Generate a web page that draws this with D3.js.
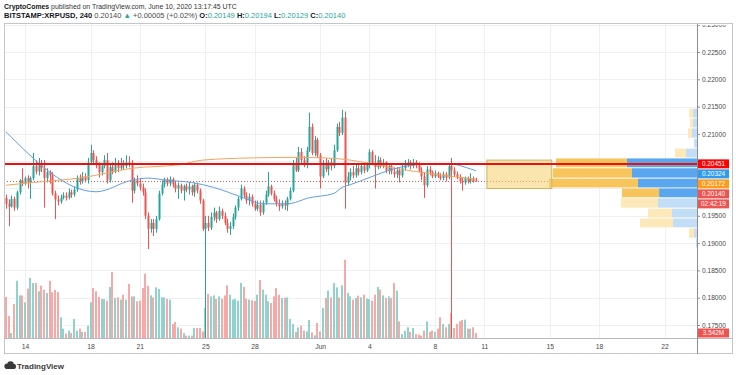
<!DOCTYPE html>
<html lang="en">
<head>
<meta charset="UTF-8">
<title>BITSTAMP:XRPUSD, 240</title>
<script src="https://d3js.org/d3.v7.min.js"></script>
<style>
    body { margin: 0; background: #fff; }
    svg { display: block; font-family: "Liberation Sans", Arial, sans-serif; }
    text { white-space: pre; }
</style>
</head>
<body>
<svg id="chart" width="736" height="375"></svg>
<script>
// 4h candles, first one opens May 12 2020 20:00 UTC
const firstOpen = Date.UTC(2020, 4, 12, 20);
const candleMs = 4 * 3600 * 1000;

// [open, high, low, close]
const ohlc = [
    [.1983,.1989,.1963,.1972],[.1972,.1980,.1931,.1967],[.1967,.1987,.1965,.1981],[.1981,.1985,.1959,.1965],
    [.1965,.1996,.1961,.1993],[.1993,.2017,.1989,.2015],[.2015,.2037,.2004,.2009],[.2009,.2022,.2006,.2019],
    [.2019,.2024,.2000,.2011],[.2011,.2022,.1981,.2019],[.2019,.2065,.2015,.2041],[.2041,.2052,.2026,.2031],
    [.2031,.2056,.2024,.2046],[.2046,.2052,.2030,.2037],[.2037,.2052,.1965,.2019],[.2019,.2037,.2011,.2030],
    [.2030,.2033,.2009,.2024],[.2024,.2030,.1987,.1991],[.1991,.1996,.1944,.1980],[.1980,.1987,.1969,.1976],
    [.1976,.1989,.1972,.1983],[.1983,.1993,.1980,.1987],[.1987,.1993,.1978,.1983],[.1983,.2000,.1980,.1993],
    [.1993,.1998,.1983,.1989],[.1989,.2004,.1985,.1998],[.1998,.2024,.1994,.2019],[.2019,.2026,.2007,.2013],
    [.2013,.2030,.2009,.2022],[.2022,.2028,.2011,.2015],[.2015,.2056,.2009,.2048],[.2048,.2080,.2044,.2065],
    [.2065,.2070,.2046,.2052],[.2052,.2059,.2037,.2043],[.2043,.2048,.2020,.2030],[.2030,.2046,.2024,.2041],
    [.2041,.2061,.2037,.2052],[.2052,.2065,.2009,.2015],[.2015,.2046,.2011,.2039],[.2039,.2048,.2026,.2031],
    [.2031,.2056,.2028,.2044],[.2044,.2052,.2030,.2037],[.2037,.2056,.2033,.2046],[.2046,.2052,.2035,.2041],
    [.2041,.2061,.2037,.2048],[.2048,.2059,.2039,.2044],[.2044,.2052,.1974,.1996],[.1996,.2020,.1991,.2015],
    [.2015,.2024,.2004,.2009],[.2009,.2019,.1996,.2002],[.2002,.2009,.1987,.1993],[.1993,.2000,.1944,.1950],
    [.1950,.1956,.1889,.1926],[.1926,.1944,.1919,.1937],[.1937,.1944,.1913,.1926],[.1926,.1950,.1919,.1944],
    [.1944,.1996,.1941,.1991],[.1991,.2015,.1987,.2007],[.2007,.2020,.2002,.2017],[.2017,.2020,.2004,.2009],
    [.2009,.2022,.2004,.2017],[.2017,.2020,.2002,.2007],[.2007,.2013,.1993,.2000],[.2000,.2011,.1981,.2006],
    [.2006,.2009,.1991,.1996],[.1996,.2007,.1978,.2004],[.2004,.2009,.1993,.1998],[.1998,.2011,.1989,.2004],
    [.2004,.2007,.1987,.1993],[.1993,.2011,.1985,.2007],[.2007,.2011,.1991,.1996],[.1996,.2000,.1972,.1978],
    [.1978,.1981,.1922,.1926],[.1926,.1950,.1650,.1937],[.1937,.1950,.1922,.1928],[.1928,.1956,.1924,.1948],
    [.1948,.1965,.1941,.1956],[.1956,.1959,.1937,.1944],[.1944,.1967,.1941,.1959],[.1959,.1963,.1944,.1950],
    [.1950,.1956,.1933,.1937],[.1937,.1944,.1919,.1926],[.1926,.1939,.1915,.1931],[.1931,.1954,.1926,.1948],
    [.1948,.1969,.1943,.1965],[.1965,.1985,.1959,.1981],[.1981,.2007,.1978,.2000],[.2000,.2004,.1983,.1987],
    [.1987,.1993,.1972,.1978],[.1978,.1991,.1969,.1985],[.1985,.1989,.1967,.1972],[.1972,.1978,.1959,.1963],
    [.1963,.1978,.1959,.1970],[.1970,.1978,.1950,.1956],[.1956,.1978,.1952,.1974],[.1974,.1996,.1970,.1989],
    [.1989,.2030,.1985,.2004],[.2004,.2007,.1987,.1991],[.1991,.1996,.1976,.1980],[.1980,.1987,.1967,.1972],
    [.1972,.1980,.1959,.1967],[.1967,.1978,.1963,.1972],[.1972,.1978,.1961,.1969],[.1969,.1985,.1959,.1981],
    [.1981,.2002,.1978,.1996],[.1996,.2052,.1993,.2046],[.2046,.2056,.2030,.2033],[.2033,.2076,.2030,.2067],
    [.2067,.2074,.2046,.2052],[.2052,.2059,.2039,.2043],[.2043,.2076,.2037,.2070],[.2070,.2139,.2067,.2113],
    [.2113,.2119,.2061,.2065],[.2065,.2096,.2059,.2089],[.2089,.2093,.2056,.2061],[.2061,.2065,.2000,.2022],
    [.2022,.2052,.2019,.2046],[.2046,.2056,.2030,.2035],[.2035,.2052,.2024,.2048],[.2048,.2056,.2033,.2041],
    [.2041,.2080,.2037,.2070],[.2070,.2119,.2067,.2113],[.2113,.2122,.2096,.2102],[.2102,.2144,.2098,.2130],
    [.2130,.2141,.1963,.2011],[.2011,.2030,.2006,.2022],[.2022,.2037,.2015,.2030],[.2030,.2041,.2019,.2024],
    [.2024,.2043,.2020,.2037],[.2037,.2044,.2024,.2030],[.2030,.2046,.2026,.2041],[.2041,.2044,.2028,.2033],
    [.2033,.2048,.2030,.2043],[.2043,.2072,.2037,.2067],[.2067,.2070,.2043,.2046],[.2046,.2061,.2000,.2039],
    [.2039,.2059,.2035,.2052],[.2052,.2057,.2037,.2041],[.2041,.2054,.2037,.2048],[.2048,.2050,.2028,.2033],
    [.2033,.2046,.2026,.2041],[.2041,.2046,.2026,.2031],[.2031,.2039,.2020,.2026],[.2026,.2039,.2019,.2033],
    [.2033,.2037,.2011,.2024],[.2024,.2043,.2020,.2037],[.2037,.2052,.2033,.2044],[.2044,.2054,.2039,.2048],
    [.2048,.2052,.2035,.2041],[.2041,.2054,.2037,.2048],[.2048,.2052,.2037,.2043],[.2043,.2048,.2030,.2033],
    [.2033,.2039,.2015,.2022],[.2022,.2030,.1983,.2006],[.2006,.2041,.2002,.2035],[.2035,.2041,.2024,.2030],
    [.2030,.2033,.2019,.2022],[.2022,.2033,.2019,.2028],[.2028,.2031,.2019,.2022],[.2022,.2028,.2015,.2019],
    [.2019,.2031,.2015,.2026],[.2026,.2030,.2013,.2020],[.2020,.2046,.2017,.2041],[.2041,.2056,.1650,.2033],
    [.2033,.2039,.2022,.2026],[.2026,.2031,.2017,.2020],[.2020,.2026,.2009,.2013],[.2013,.2020,.1996,.2011],
    [.2011,.2022,.2007,.2019],[.2019,.2022,.2009,.2013],[.2013,.2028,.2009,.2019],[.2019,.2022,.2011,.20135],
    [.20149,.20194,.20129,.20140]
];

// volume per candle, millions of XRP
const volumes = [
    29.1,15.6,3.5,24.1,40.6,30.2,30.2,25.3,35.0,42.5,39.0,39.0,33.1,37.1,34.3,31.9,40.6,32.4,34.0,32.6,
    14.7,6.6,3.1,5.2,3.5,13.5,5.2,6.6,4.3,4.3,8.7,25.3,35.4,33.1,29.1,27.6,27.6,26.5,36.2,46.8,
    28.4,28.8,27.2,30.7,27.2,38.3,29.5,29.5,26.0,26.5,35.4,45.6,37.1,30.2,28.8,35.9,34.7,28.8,28.8,27.9,
    27.2,9.9,11.3,7.6,6.6,3.5,1.7,1.7,1.7,7.1,7.1,7.1,4.7,21.3,31.2,29.5,30.2,27.6,29.5,27.9,
    30.2,37.3,30.7,27.2,27.6,26.5,39.0,
    36.2,27.9,27.2,26.7,26.2,30.7,41.1,34.3,30.7,26.0,24.8,29.5,35.4,30.7,28.4,28.4,28.8,13.5,9.9,4.3,
    7.6,8.7,5.2,4.7,12.8,4.0,1.9,10.6,4.7,21.3,28.4,33.6,28.8,39.0,35.9,28.8,37.3,55.5,31.9,29.5,
    27.2,28.4,30.0,28.8,30.7,27.9,27.6,26.5,30.7,36.2,34.3,30.2,28.4,29.5,28.4,39.0,33.6,11.8,2.8,5.2,
    7.6,4.3,7.1,2.8,2.4,1.7,5.2,11.8,4.3,5.2,4.3,6.6,14.7,9.9,7.6,9.9,17.7,7.1,9.9,11.8,
    12.8,13.0,6.6,6.6,7.6,3.542
];

// moving averages: [candle index, value]
const blueMA = [[0,.2104],[33,.1994],[46,.2015],[52,.2019],[59,.2015],[68,.2011],[76,.2002],[87,.1983],
    [94,.1972],[103,.1972],[111,.1983],[120,.1991],[123,.2002],[126,.2007],[133,.2020],[140,.2033],
    [149,.2043],[158,.2046],[162,.2046],[168,.2039],[172,.20324]];
const orangeMA = [[0,.2006],[10,.2011],[28,.2020],[46,.2037],[64,.2044],[72,.2052],[90,.2056],[106,.2057],
    [117,.2056],[126,.2052],[133,.2046],[140,.2039],[150,.2031],[160,.2024],[172,.20172]];

// visible range volume profile, rows bottom to top
const profileEdges = [.1891,.1909,.1928,.1946,.1964,.1983,.2001,.2019,.2038,.2056,.2074,.2092,.2111,.2129,.2147];
const profileUp = [5,14,115,120,187,182,283,312,336,53,14,24,19,19];
const profileDown = [0,24,158,115,178,178,427,379,341,53,0,19,14,19];
const valueAreaRows = [5,6,7,8];

const priceTicks = [0.175,0.18,0.185,0.19,0.195,0.2,0.205,0.21,0.215,0.22,0.225,0.23];
const dayTicks = [[4,14],[4,18],[4,21],[4,25],[4,28],[5,1],[5,4],[5,8],[5,11],[5,15],[5,18],[5,22]];
const dayLabels = ["14","18","21","25","28","Jun","4","8","11","15","18","22"];

const levelPrice = 0.20451;
const lastPrice = 0.20140;
const countdown = "02:42:19";
const zone = { from: Date.UTC(2020,5,11,4), to: Date.UTC(2020,5,15,3), top: 0.2052, bottom: 0.2000 };

const green = "#26a69a", red = "#ef5350";
const plot = { left: 4, right: 697, top: 24, bottom: 338 };

const svg = d3.select("#chart");

const x = d3.scaleUtc()
    .domain([new Date(Date.UTC(2020,4,12,17,15)), new Date(Date.UTC(2020,5,23,23,30))])
    .range([plot.left, plot.right]);
const y = d3.scaleLinear().domain([0.175, 0.225]).range([325, 52]);
const yVol = d3.scaleLinear().domain([0, 56]).range([plot.bottom, 259]);

const candles = ohlc.map((d, i) => ({
    t: new Date(firstOpen + i * candleMs),
    open: d[0], high: d[1], low: d[2], close: d[3],
    vol: volumes[i],
    up: d[3] >= d[0]
}));

const defs = svg.append("defs");
defs.append("clipPath").attr("id", "plotclip")
    .append("rect")
    .attr("x", plot.left).attr("y", plot.top)
    .attr("width", plot.right - plot.left).attr("height", plot.bottom - plot.top);
defs.append("clipPath").attr("id", "axisclip")
    .append("rect").attr("x", plot.right).attr("y", plot.top + 1).attr("width", 40).attr("height", plot.bottom - plot.top);

const g = svg.append("g").attr("clip-path", "url(#plotclip)");

// grid
g.selectAll(".hgrid").data(priceTicks).enter().append("line")
    .attr("x1", plot.left).attr("x2", plot.right)
    .attr("y1", d => Math.round(y(d)) + 0.5).attr("y2", d => Math.round(y(d)) + 0.5)
    .attr("stroke", "#eef0f4");
const dayDates = dayTicks.map(d => new Date(Date.UTC(2020, d[0], d[1])));
g.selectAll(".vgrid").data(dayDates).enter().append("line")
    .attr("x1", d => Math.round(x(d)) + 0.5).attr("x2", d => Math.round(x(d)) + 0.5)
    .attr("y1", plot.top).attr("y2", plot.bottom)
    .attr("stroke", "#eef0f4");

// current price line
g.append("line")
    .attr("x1", plot.left).attr("x2", plot.right)
    .attr("y1", Math.round(y(lastPrice)) + 0.5).attr("y2", Math.round(y(lastPrice)) + 0.5)
    .attr("stroke", red).attr("stroke-dasharray", "1,2");

// volume profile
const profMax = d3.max(profileUp, (d, i) => d + profileDown[i]);
const wProf = d3.scaleLinear().domain([0, profMax]).range([0, 148]);
profileUp.forEach((up, r) => {
    const top = y(profileEdges[r + 1]), bot = y(profileEdges[r]);
    const va = valueAreaRows.includes(r);
    const wu = wProf(up), wd = wProf(profileDown[r]);
    g.append("rect")
        .attr("x", plot.right - wu).attr("y", top + 0.5)
        .attr("width", wu).attr("height", bot - top - 1)
        .attr("fill", va ? "#5aa6ef" : "#c2def7");
    g.append("rect")
        .attr("x", plot.right - wu - wd).attr("y", top + 0.5)
        .attr("width", wd).attr("height", bot - top - 1)
        .attr("fill", va ? "#f8c45c" : "#fce8b8");
});

// volume bars
g.selectAll(".vol").data(candles).enter().append("rect")
    .attr("x", d => Math.round(x(d.t)) - 1)
    .attr("y", d => yVol(d.vol))
    .attr("width", 2)
    .attr("height", d => plot.bottom - yVol(d.vol))
    .attr("fill", d => d.up ? "#92d2cc" : "#f7a9a7");

// candles
const cg = g.selectAll(".candle").data(candles).enter().append("g");
cg.append("line")
    .attr("x1", d => Math.round(x(d.t)) + 0.5).attr("x2", d => Math.round(x(d.t)) + 0.5)
    .attr("y1", d => y(d.high)).attr("y2", d => y(d.low))
    .attr("stroke", d => d.up ? green : red);
cg.append("rect")
    .attr("x", d => Math.round(x(d.t)) - 0.5)
    .attr("y", d => y(Math.max(d.open, d.close)))
    .attr("width", 2)
    .attr("height", d => Math.max(1, Math.abs(y(d.open) - y(d.close))))
    .attr("fill", d => d.up ? green : red);

// moving averages
const maLine = d3.line()
    .x(d => x(new Date(firstOpen + d[0] * candleMs)))
    .y(d => y(d[1]))
    .curve(d3.curveMonotoneX);
g.append("path").attr("d", maLine(orangeMA)).attr("fill", "none").attr("stroke", "#f5a45e").attr("stroke-width", 1);
g.append("path").attr("d", maLine(blueMA)).attr("fill", "none").attr("stroke", "#5f9fe6").attr("stroke-width", 1);

// projected zone
g.append("rect")
    .attr("x", x(new Date(zone.from))).attr("y", y(zone.top))
    .attr("width", x(new Date(zone.to)) - x(new Date(zone.from)))
    .attr("height", y(zone.bottom) - y(zone.top))
    .attr("fill", "#f6cf6e").attr("fill-opacity", 0.55)
    .attr("stroke", "#cfb45e");

// horizontal level
g.append("line")
    .attr("x1", plot.left).attr("x2", plot.right)
    .attr("y1", y(levelPrice)).attr("y2", y(levelPrice))
    .attr("stroke", "#e81010").attr("stroke-width", 2);

// frame and dividers
svg.append("rect").attr("x", 4.5).attr("y", 23.5).attr("width", 728).attr("height", 330)
    .attr("fill", "none").attr("stroke", "#c4c6cc");
svg.append("line").attr("x1", 4).attr("x2", 733).attr("y1", 338.5).attr("y2", 338.5)
    .attr("stroke", "#b8bac0");
svg.append("line").attr("x1", 697.5).attr("x2", 697.5).attr("y1", 24).attr("y2", 354)
    .attr("stroke", "#8c8e94");

// right-axis tags, pushed apart like the platform does
const fmt = d3.format(".5f");
const tags = [
    { v: levelPrice, text: fmt(levelPrice), fill: "#ff0000" },
    { v: blueMA[blueMA.length - 1][1], text: fmt(blueMA[blueMA.length - 1][1]), fill: "#2f9bf0" },
    { v: orangeMA[orangeMA.length - 1][1], text: fmt(orangeMA[orangeMA.length - 1][1]), fill: "#ff9a1a" },
    { v: lastPrice, text: fmt(lastPrice), fill: red, timer: countdown }
];
let prevY = -Infinity;
const tagSpots = [];
tags.forEach(t => {
    let cy = Math.max(y(t.v), prevY + 10);
    t.cy = cy;
    tagSpots.push(cy);
    if (t.timer) tagSpots.push(cy + 10);
    prevY = t.timer ? cy + 10 : cy;
});
const lastVol = volumes[volumes.length - 1];
tagSpots.push(yVol(lastVol));

// price axis (tick labels hidden where a tag sits)
const visibleTicks = priceTicks.filter(p => tagSpots.every(s => Math.abs(y(p) - s) >= 7.5));
const yAxis = svg.append("g")
    .attr("clip-path", "url(#axisclip)")
    .append("g")
    .attr("transform", `translate(${plot.right},0)`)
    .call(d3.axisRight(y).tickValues(visibleTicks).tickSize(3).tickPadding(2).tickFormat(fmt));
yAxis.select(".domain").remove();
yAxis.selectAll("line").attr("stroke", "#8c8e94");
yAxis.selectAll("text").attr("fill", "#4a4a4a").style("font-size", "6.6px").style("font-family", "'Liberation Sans', Arial, sans-serif");

// time axis
const xAxis = svg.append("g")
    .attr("transform", `translate(0,${plot.bottom})`)
    .call(d3.axisBottom(x).tickValues(dayDates).tickSize(0).tickPadding(6)
        .tickFormat((d, i) => dayLabels[i]));
xAxis.select(".domain").remove();
xAxis.selectAll("text").attr("fill", "#4a4a4a").style("font-size", "6.8px").style("font-family", "'Liberation Sans', Arial, sans-serif");

const drawTag = (cy, text, fill) => {
    svg.append("rect").attr("x", 698).attr("y", cy - 4.5).attr("width", 31).attr("height", 9).attr("fill", fill);
    svg.append("text").attr("x", 713.5).attr("y", cy).attr("dy", "0.35em")
        .attr("text-anchor", "middle").attr("fill", "#fff").style("font-size", "6.4px").text(text);
};
tags.forEach(t => {
    drawTag(t.cy, t.text, t.fill);
    if (t.timer) drawTag(t.cy + 10, t.timer, red);
});
drawTag(yVol(lastVol), d3.format(".4")(lastVol) + "M", red);

// header
svg.append("text").attr("x", 4).attr("y", 8.5).style("font-size", "6.9px").attr("fill", "#333")
    .call(t => {
        t.append("tspan").attr("font-weight", "bold").attr("fill", "#131722").text("CryptoComes");
        t.append("tspan").text(" published on TradingView.com, June 10, 2020 13:17:45 UTC");
    });
const last = candles[candles.length - 1];
svg.append("text").attr("x", 4).attr("y", 18).style("font-size", "7.5px").attr("fill", "#4a4a4a")
    .call(t => {
        t.append("tspan").attr("font-weight", "bold").attr("fill", "#131722").text("BITSTAMP:XRPUSD, 240");
        t.append("tspan").text(" " + fmt(lastPrice) + " ");
        t.append("tspan").attr("fill", green).text("▲");
        t.append("tspan").text(" +0.00005 (+0.02%) ");
        [["O:", last.open], [" H:", last.high], [" L:", last.low], [" C:", last.close]].forEach(([k, v]) => {
            t.append("tspan").attr("font-weight", "bold").attr("fill", "#131722").text(k);
            t.append("tspan").attr("fill", green).text(fmt(v));
        });
    });

// TradingView logo
const logo = svg.append("g").attr("transform", "translate(4,361)").attr("fill", "#3a3a3a");
logo.append("circle").attr("cx", 3.2).attr("cy", 5.2).attr("r", 2.8);
logo.append("circle").attr("cx", 6.5).attr("cy", 3.4).attr("r", 3.2);
logo.append("circle").attr("cx", 9.4).attr("cy", 5.4).attr("r", 2.6);
logo.append("rect").attr("x", 3).attr("y", 5).attr("width", 6.5).attr("height", 3);
svg.append("text").attr("x", 17).attr("y", 368.5).style("font-size", "8px")
    .attr("font-weight", "bold").attr("fill", "#3a3a3a").text("TradingView");
</script>
</body>
</html>
